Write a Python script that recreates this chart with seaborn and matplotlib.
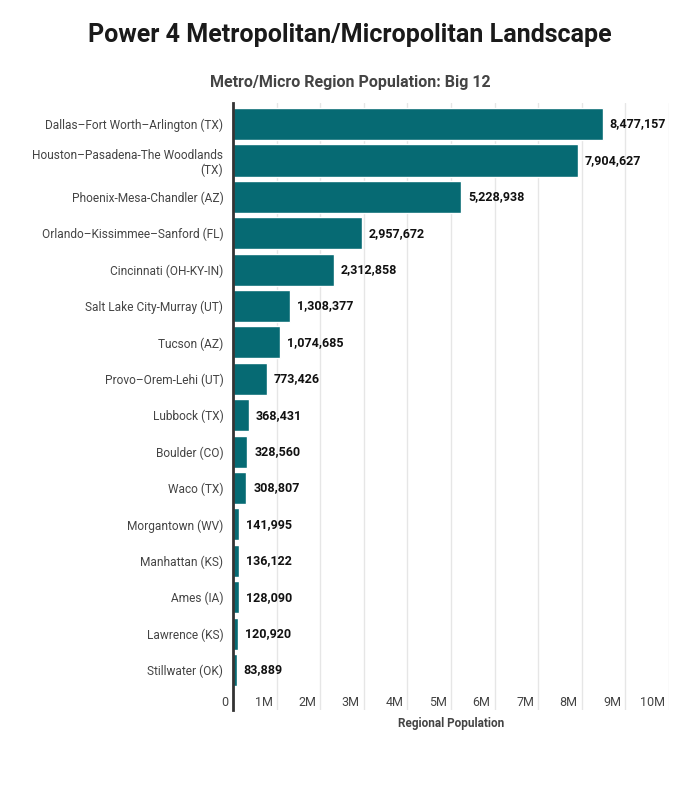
import matplotlib
matplotlib.use("Agg")
import matplotlib.pyplot as plt
import seaborn as sns
import pandas as pd

# Datos
regions = [
    "Dallas–Fort Worth–Arlington (TX)",
    "Houston–Pasadena-The Woodlands\n(TX)",
    "Phoenix-Mesa-Chandler (AZ)",
    "Orlando–Kissimmee–Sanford (FL)",
    "Cincinnati (OH-KY-IN)",
    "Salt Lake City-Murray (UT)",
    "Tucson (AZ)",
    "Provo–Orem-Lehi (UT)",
    "Lubbock (TX)",
    "Boulder (CO)",
    "Waco (TX)",
    "Morgantown (WV)",
    "Manhattan (KS)",
    "Ames (IA)",
    "Lawrence (KS)",
    "Stillwater (OK)",
]
population = [8477157, 7904627, 5228938, 2957672, 2312858, 1308377, 1074685,
              773426, 368431, 328560, 308807, 141995, 136122, 128090, 120920, 83889]
x_ticks = [0, 1e6, 2e6, 3e6, 4e6, 5e6, 6e6, 7e6, 8e6, 9e6, 10e6]
x_tick_labels = ["0", "1M", "2M", "3M", "4M", "5M", "6M", "7M", "8M", "9M", "10M"]

sns.set_theme(style="white")
plt.rcParams["font.family"] = ["Roboto", "DejaVu Sans"]

df = pd.DataFrame({"region": regions, "population": population})

fig = plt.figure(figsize=(7, 8), dpi=100)
ax = fig.add_axes([233 / 700, 1 - 710 / 800, (669 - 233) / 700, (710 - 103) / 800])

sns.barplot(data=df, y="region", x="population", color="#066a73",
            width=0.88, saturation=1, ax=ax, zorder=3)

ax.set_xlim(0, 10e6)
ax.set_ylim(len(regions) - 1 + 1.1, -0.58)

# Etiquetas de valor
for i, v in enumerate(population):
    ax.annotate(f"{v:,}", xy=(v, i), xytext=(5, 0), textcoords="offset points",
                va="center", ha="left", fontsize=9, fontweight="bold", color="#111111")

# Marcas del eje X: alineadas a la izquierda de cada línea de la rejilla
ax.set_xticks(x_ticks)
ax.set_xticklabels([])
for t, lab in zip(x_ticks, x_tick_labels):
    ax.annotate(lab, xy=(t, 0), xycoords=("data", "axes fraction"),
                xytext=(-3, 1), textcoords="offset points",
                ha="right", va="bottom", fontsize=9, color="#444444")
ax.tick_params(axis="x", length=0, pad=0)
ax.tick_params(axis="y", length=0, pad=7, labelsize=8.6, labelcolor="#444444")

ax.xaxis.grid(True, color="#e6e6e6", linewidth=1, zorder=0)
ax.yaxis.grid(False)
for s in ["top", "right", "bottom"]:
    ax.spines[s].set_visible(False)
ax.spines["left"].set_color("#333333")
ax.spines["left"].set_linewidth(2)
ax.spines["left"].set_zorder(4)

ax.set_ylabel("")
ax.set_xlabel("Regional Population", fontsize=8.5, fontweight="bold", color="#444444", labelpad=5)

fig.text(0.5, 1 - 35 / 800, "Power 4 Metropolitan/Micropolitan Landscape",
         ha="center", va="center", fontsize=18, fontweight="bold", color="#1a1a1a")
fig.text(0.5, 1 - 82 / 800, "Metro/Micro Region Population: Big 12",
         ha="center", va="center", fontsize=11.5, fontweight="bold", color="#444444")

fig.savefig("out.png", dpi=100)
